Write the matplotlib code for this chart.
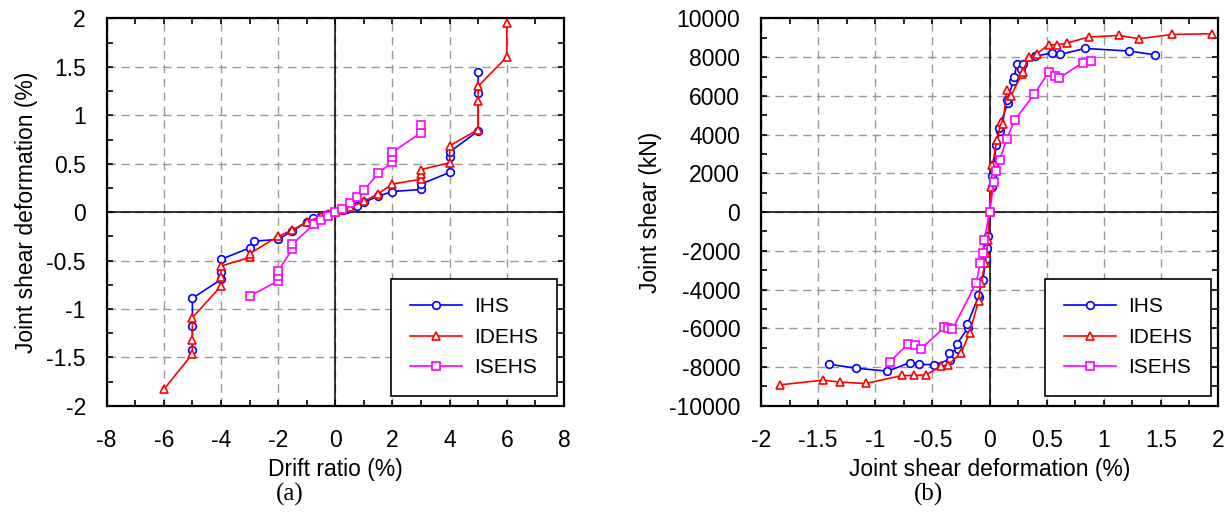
import numpy as np
import matplotlib
matplotlib.use("Agg")
import matplotlib.pyplot as plt
from matplotlib.ticker import MultipleLocator

plt.rcParams['font.family'] = ['Liberation Sans', 'DejaVu Sans']
plt.rcParams['axes.unicode_minus'] = False

# ---- (a) drift ratio vs joint shear deformation ----
ihs_drift = [-5, -5, -5, -4, -4, -4, -3, -2.86, -2, -1.5, -1, -0.77, -0.5, -0.4, -0.26, 0,
             0.26, 0.36, 0.49, 0.77, 1, 1.5, 2, 3, 3, 4, 4, 4, 5, 5, 5]
ihs_jsd = [-1.42, -1.18, -0.89, -0.695, -0.616, -0.488, -0.37, -0.30, -0.282, -0.193, -0.103,
           -0.058, -0.041, -0.03, -0.017, 0, 0.02, 0.03, 0.038, 0.065, 0.10, 0.165, 0.213,
           0.234, 0.29, 0.41, 0.565, 0.62, 0.84, 1.23, 1.445]

idehs_drift = [-6, -5, -5, -5, -4, -4, -4, -3, -3, -2, -1.5, -1, -0.5, -0.25, 0,
               0.25, 0.5, 1, 1.5, 2, 3, 3, 3, 4, 4, 5, 5, 5, 6, 6]
idehs_jsd = [-1.83, -1.465, -1.32, -1.09, -0.764, -0.674, -0.557, -0.468, -0.43, -0.25, -0.185,
             -0.1, -0.045, -0.02, 0, 0.025, 0.05, 0.11, 0.19, 0.29, 0.34, 0.39, 0.44, 0.51,
             0.685, 0.853, 1.146, 1.30, 1.603, 1.954]

isehs_drift = [-3, -2, -2, -2, -1.5, -1.5, -0.75, -0.5, -0.25, 0, 0.25, 0.5, 0.77, 1, 1.5,
               2, 2, 2, 3, 3]
isehs_jsd = [-0.867, -0.71, -0.66, -0.61, -0.38, -0.33, -0.125, -0.08, -0.04, 0, 0.035, 0.09,
             0.158, 0.225, 0.40, 0.52, 0.57, 0.62, 0.82, 0.895]

# ---- (b) joint shear deformation vs joint shear ----
ihs_b_jsd = [-1.409, -1.167, -0.893, -0.694, -0.615, -0.49, -0.35, -0.355, -0.274, -0.285,
             -0.186, -0.193, -0.096, -0.10, -0.058, -0.032, -0.023, -0.011, 0,
             0.018, 0.026, 0.041, 0.058, 0.09, 0.085, 0.16, 0.152, 0.21, 0.216, 0.24, 0.275,
             0.292, 0.40, 0.549, 0.619, 0.835, 1.225, 1.444]
ihs_b_shear = [-7851, -8058, -8213, -7766, -7852, -7887, -7629, -7285, -7045, -6804,
               -5962, -5773, -4364, -4278, -3505, -2423, -1873, -1237, 0,
               1306, 1873, 2440, 3453, 4190, 4360, 5656, 5773, 6770, 6976, 7630, 7406,
               7630, 8041, 8230, 8144, 8453, 8316, 8127]

idehs_b_jsd = [-1.832, -1.458, -1.307, -1.085, -0.764, -0.665, -0.554, -0.423, -0.364, -0.25,
               -0.175, -0.096, -0.076, -0.038, -0.029, -0.009, 0,
               0.012, 0.026, 0.064, 0.102, 0.117, 0.152, 0.187, 0.283, 0.29, 0.342, 0.415,
               0.517, 0.59, 0.677, 0.867, 1.135, 1.31, 1.60, 1.946]
idehs_b_shear = [-8918, -8677, -8780, -8849, -8436, -8436, -8402, -7938, -7887, -7285,
                 -6254, -4588, -3676, -2646, -2096, -1443, 0,
                 1300, 2422, 3711, 4656, 4536, 6289, 5980, 7148, 7233, 8007, 8180,
                 8643, 8643, 8729, 9038, 9124, 8953, 9175, 9210]

isehs_b_jsd = [-0.875, -0.714, -0.65, -0.601, -0.394, -0.365, -0.324, -0.116, -0.081,
               -0.058, -0.046, 0, 0.041, 0.055, 0.088, 0.152, 0.219, 0.391, 0.517, 0.569,
               0.61, 0.814, 0.884]
isehs_b_shear = [-7749, -6804, -6856, -7062, -5945, -5980, -6048, -3642, -2646,
                 -2131, -1443, 0, 1563, 2130, 2680, 3797, 4742, 6082, 7234, 7010,
                 6924, 7715, 7818]

series_names = ['IHS', 'IDEHS', 'ISEHS']
series_colors = ['#0000FF', '#FF0000', '#FF00FF']
series_markers = ['o', '^', 's']

fig = plt.figure(figsize=(12.26, 5.13), dpi=100)
ax1 = fig.add_axes([0.087, 0.209, 0.373, 0.755])
ax2 = fig.add_axes([0.6207, 0.209, 0.3728, 0.755])

data_a = [(ihs_drift, ihs_jsd), (idehs_drift, idehs_jsd), (isehs_drift, isehs_jsd)]
data_b = [(ihs_b_jsd, ihs_b_shear), (idehs_b_jsd, idehs_b_shear), (isehs_b_jsd, isehs_b_shear)]

for ax, data in [(ax1, data_a), (ax2, data_b)]:
    ax.axhline(0, color='black', lw=1.1, zorder=1)
    ax.axvline(0, color='black', lw=1.1, zorder=1)
    for (xs, ys), name, c, m in zip(data, series_names, series_colors, series_markers):
        ax.plot(xs, ys, color=c, marker=m, markersize=5.5, markerfacecolor='white',
                markeredgecolor=c, markeredgewidth=1.2, lw=1.2, label=name, zorder=3)
    ax.grid(True, which='major', color='#999999', linestyle=(0, (6, 4)), lw=1.0)
    ax.set_axisbelow(True)
    ax.tick_params(which='both', direction='in', top=True, right=True,
                   length=4.5, width=1.2, labelsize=16.5, pad=15)
    ax.tick_params(axis='x', pad=17)
    for s in ax.spines.values():
        s.set_linewidth(1.6)
    leg = ax.legend(loc='lower right', bbox_to_anchor=(0.985, 0.025), fontsize=15,
                    fancybox=False, edgecolor='black', framealpha=1, borderpad=0.9,
                    handlelength=2.5, handletextpad=0.6, labelspacing=0.55, borderaxespad=0)
    leg.get_frame().set_linewidth(1.2)

ax1.set_xlim(-8, 8)
ax1.set_ylim(-2, 2)
ax1.xaxis.set_minor_locator(MultipleLocator(1))
ax1.yaxis.set_minor_locator(MultipleLocator(0.25))
ax1.set_xticks(np.arange(-8, 8.1, 2))
ax1.set_yticks(np.arange(-2, 2.01, 0.5))
ax1.set_yticklabels(['-2', '-1.5', '-1', '-0.5', '0', '0.5', '1', '1.5', '2'])
ax1.set_xlabel('Drift ratio (%)', fontsize=16.5, labelpad=4)
ax1.set_ylabel('Joint shear deformation (%)', fontsize=16.5, labelpad=6)

ax2.set_xlim(-2, 2)
ax2.set_ylim(-10000, 10000)
ax2.xaxis.set_minor_locator(MultipleLocator(0.25))
ax2.yaxis.set_minor_locator(MultipleLocator(1000))
ax2.set_xticks(np.arange(-2, 2.01, 0.5))
ax2.set_xticklabels(['-2', '-1.5', '-1', '-0.5', '0', '0.5', '1', '1.5', '2'])
ax2.set_yticks(np.arange(-10000, 10001, 2000))
ax2.set_xlabel('Joint shear deformation (%)', fontsize=16.5, labelpad=4)
ax2.set_ylabel('Joint shear (kN)', fontsize=16.5, labelpad=5)

fig.text(0.2365, 0.037, '(a)', family='Liberation Serif', fontsize=18, ha='center', va='center')
fig.text(0.757, 0.037, '(b)', family='Liberation Serif', fontsize=18, ha='center', va='center')

fig.savefig('out.png', dpi=100)
